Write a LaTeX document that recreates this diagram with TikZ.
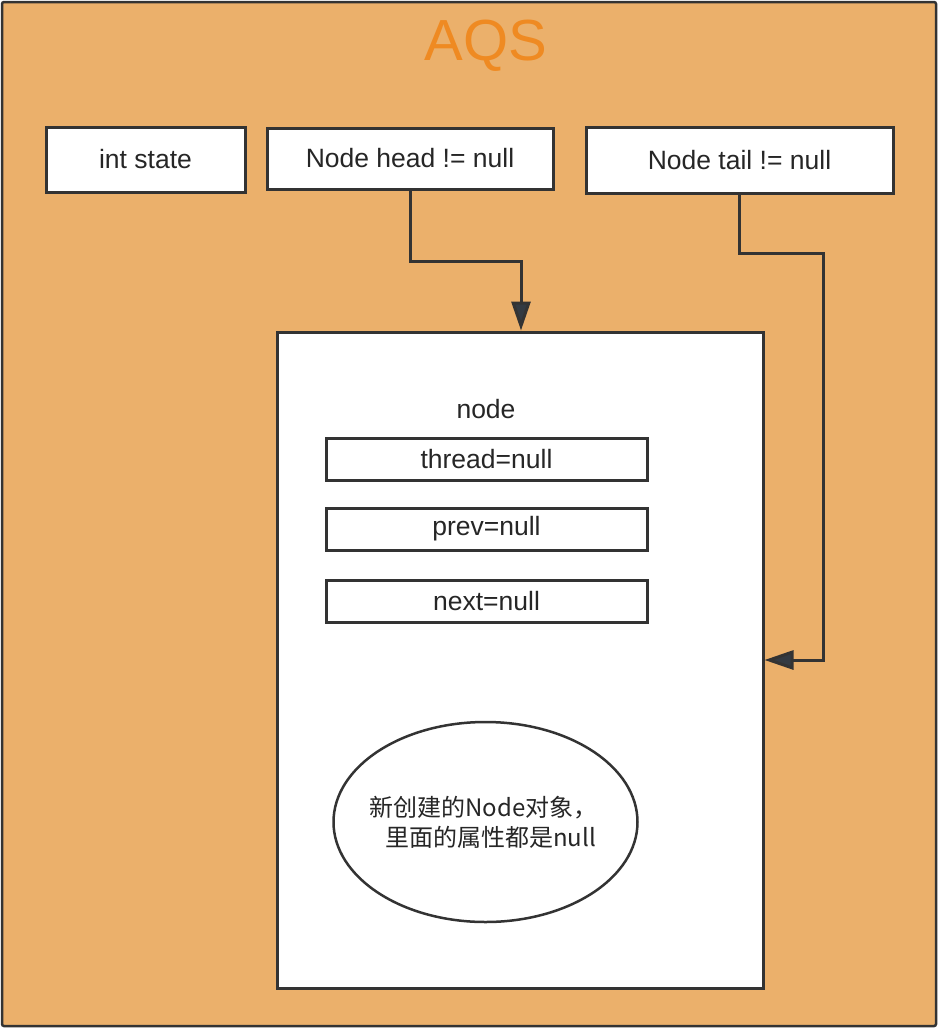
\documentclass[tikz,border=0pt]{standalone}
\usepackage{fontspec}
\setmainfont{Liberation Sans}
\newfontfamily\cjk{Noto Sans CJK SC}
\usetikzlibrary{arrows.meta,shapes.geometric,calc}
\definecolor{bgorange}{HTML}{EBB06B}
\definecolor{titleorange}{HTML}{EF8A22}
\definecolor{linedark}{HTML}{333333}
\definecolor{arrowdark}{HTML}{333A42}
\tikzset{
  field/.style={draw=linedark, line width=3pt, fill=white, inner sep=0pt, font=\fontsize{26.5}{30}\selectfont, text=black!85},
  arr/.style={draw=linedark, line width=3pt, -{Triangle[length=29pt,width=19pt,fill=arrowdark]}},
}
\begin{document}
\begin{tikzpicture}[x=1pt,y=-1pt]
\useasboundingbox (0,0) rectangle (938,1028);
\draw[fill=bgorange, draw=linedark, line width=2.5pt, rounded corners=2pt] (2,2) rectangle (936,1026);
\node[text=titleorange, font=\fontsize{58}{60}\selectfont] (title) at (486,46) {AQS};

\node[field, minimum width=199pt, minimum height=65pt] (state) at (145.5,159.5) {int state};
\node[field, minimum width=286pt, minimum height=61pt] (head) at (410,158.5) {Node head != null};
\node[field, minimum width=307pt, minimum height=66pt] (tail) at (739.5,160) {Node tail != null};

\node[field, minimum width=486pt, minimum height=656pt] (obj) at (520,660) {};
\node[font=\fontsize{26.5}{30}\selectfont, text=black!85] (lbl) at (486,409) {node};
\node[field, minimum width=321pt, minimum height=42pt] (thread) at (486.5,459) {thread=null};
\node[field, minimum width=321pt, minimum height=42pt] (prev) at (486.5,529) {prev=null};
\node[field, minimum width=321pt, minimum height=42pt] (next) at (486.5,601) {next=null};

\node[draw=linedark, line width=2.5pt, fill=white, ellipse, inner sep=0pt, minimum width=304pt, minimum height=200pt] (note) at (485.5,822) {};
\node[align=center, font=\cjk\fontsize{24}{30}\selectfont, text=black!85, inner sep=0pt] (notetext) at ([xshift=-2pt]note.center) {新创建的Node对象，\\\hspace{14pt}里面的属性都是null};

\coordinate (h1) at (521,261);
\draw[arr] (head.south) |- (h1) -- (h1 |- obj.north);

\coordinate (t1) at (823,253);
\coordinate (t2) at (823,660);
\draw[arr] (tail.south) |- (t1) -- (t2) -- (t2 -| obj.east);
\end{tikzpicture}
\end{document}
